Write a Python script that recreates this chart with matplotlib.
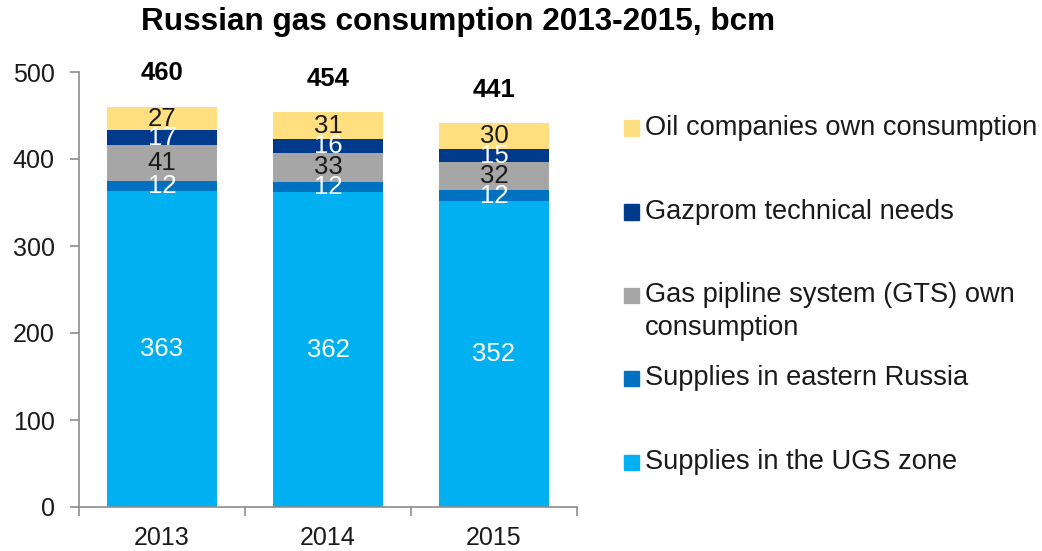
import matplotlib.pyplot as plt
from matplotlib.patches import Rectangle
import numpy as np

plt.rcParams['font.family'] = ['Liberation Sans', 'DejaVu Sans']

# Data (bcm)
years = ['2013', '2014', '2015']
ugs_zone = [363, 362, 352]
eastern_russia = [12, 12, 12]
gts_own = [41, 33, 32]
gazprom_tech = [17, 16, 15]
oil_companies = [27, 31, 30]
totals = [460, 454, 441]

series = [
    ('Supplies in the UGS zone', ugs_zone, '#00B0F0', 'white'),
    ('Supplies in eastern Russia', eastern_russia, '#0070C0', 'white'),
    ('Gas pipline system (GTS) own\nconsumption', gts_own, '#A6A6A6', '#1a1a1a'),
    ('Gazprom technical needs', gazprom_tech, '#003A8C', 'white'),
    ('Oil companies own consumption', oil_companies, '#FFDF80', '#1a1a1a'),
]

W, H = 1042, 551
fig = plt.figure(figsize=(W / 100, H / 100), dpi=100)
ax = fig.add_axes([79 / W, 1 - 507 / H, 498 / W, 435 / H])

x = np.arange(len(years))
bottom = np.zeros(len(years))
for name, vals, color, tcolor in series:
    ax.bar(x, vals, width=0.663, bottom=bottom, color=color, edgecolor='none')
    for xi, b, v in zip(x, bottom, vals):
        ax.text(xi, b + v / 2, str(v), ha='center', va='center', fontsize=18.5, color=tcolor)
    bottom += np.array(vals)

for xi, t in zip(x, totals):
    ax.annotate(str(t), (xi, t), xytext=(0, 24), textcoords='offset points',
                ha='center', va='center', fontsize=18.5, fontweight='bold', color='black')

ax.set_xlim(-0.5, len(years) - 0.5)
ax.set_ylim(0, 500)
ax.set_yticks(range(0, 501, 100))
ax.set_xticks(x)
ax.set_xticklabels(years)
ax.set_xticks(np.arange(-0.5, len(years)), minor=True)

for s in ['top', 'right']:
    ax.spines[s].set_visible(False)
for s in ['left', 'bottom']:
    ax.spines[s].set_color('#8c8c8c')
    ax.spines[s].set_linewidth(1.2)

ax.tick_params(axis='y', length=6.5, width=1.2, color='#8c8c8c', pad=11,
               labelsize=18, labelcolor='#1a1a1a')
ax.tick_params(axis='x', which='major', length=0, pad=14, labelsize=18, labelcolor='#1a1a1a')
ax.tick_params(axis='x', which='minor', length=6.5, width=1.2, color='#8c8c8c')

# Legend drawn on the right
legend_y = [128, 212, 295, 378, 462]
for (name, vals, color, tcolor), ly in zip(series[::-1], legend_y):
    fig.patches.append(Rectangle((624 / W, 1 - (ly + 7.5) / H), 15 / W, 15 / H,
                                 transform=fig.transFigure, color=color))
    for i, line in enumerate(name.split('\n')):
        fig.text(645 / W, 1 - (ly + 33 * i) / H, line, ha='left', va='center',
                 fontsize=19.6, color='#1a1a1a')

fig.text(458 / W, 1 - 22 / H, 'Russian gas consumption 2013-2015, bcm',
         ha='center', va='center', fontsize=22.7, fontweight='bold', color='black')

fig.savefig('out.png', dpi=100)
